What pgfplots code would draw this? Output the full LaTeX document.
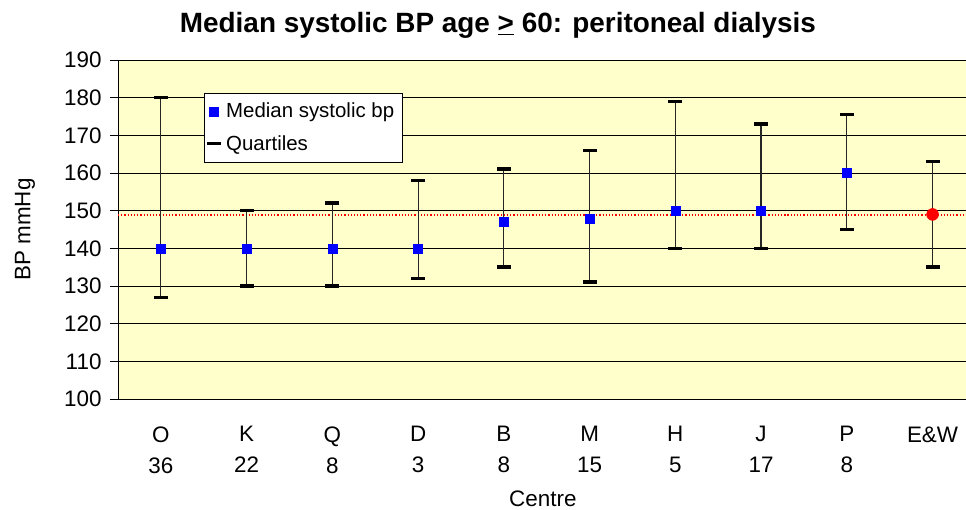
\documentclass[border=0pt]{standalone}
\usepackage{pgfplots}
\pgfplotsset{compat=1.18}
\usepackage{fontspec}
\setmainfont{Liberation Sans}
\definecolor{bgyellow}{HTML}{FFFFCC}
\begin{document}
\begin{tikzpicture}
\useasboundingbox (0,0) rectangle (966bp,510bp);
\begin{axis}[
  at={(118bp,111bp)}, anchor=south west,
  scale only axis, width=848bp, height=339bp,
  xmin=-0.5, xmax=9.39, ymin=100, ymax=190,
  axis background/.style={fill=bgyellow},
  axis x line*=bottom, axis y line*=left,
  x axis line style={-, line width=1pt}, y axis line style={-, line width=1pt},
  ytick={100,110,...,190},
  ymajorgrids, grid style={black, line width=0.8pt},
  y tick style={black, line width=0.8pt},
  major tick length=8bp,
  tick align=outside,
  yticklabel style={font=\fontsize{22.5}{26}\selectfont, xshift=-5bp},
  /pgf/number format/assume math mode=true,
  xtick={0,...,9},
  xticklabels={{O\\36},{K\\22},{Q\\8},{D\\3},{B\\8},{M\\15},{H\\5},{J\\17},{P\\8},{E\&W\\}},
  x tick style={draw=none},
  xticklabel style={align=center, font=\fontsize{22.5}{31}\selectfont, anchor=north, yshift=-16bp},
  extra x ticks={-0.5,0.5,...,8.5},
  extra x tick labels={},
  extra x tick style={grid=none, tick align=center, major tick length=15bp, tick style={draw=black, line width=0.8pt}},
  xlabel={Centre},
  xlabel style={font=\fontsize{22.5}{26}\selectfont, at={(axis description cs:0.501,-0.295)}, anchor=center},
  ylabel={BP mmHg},
  ylabel style={font=\fontsize{22.5}{26}\selectfont, at={(axis description cs:-0.1097,0.5)}, anchor=center},
  title={Median systolic BP age \underline{>} 60: peritoneal dialysis},
  title style={font=\fontsize{28}{32}\selectfont\bfseries, at={(axis description cs:0.448,1.085)}, anchor=center},
  legend style={at={(axis description cs:0.1014,0.9027)}, anchor=north west, draw=black, fill=white,
    font=\fontsize{20.5}{24}\selectfont, row sep=12bp, inner xsep=3bp, inner ysep=8bp,
    nodes={inner xsep=5bp}},
  legend cell align=left,
]
% reference line (E&W median)
\addplot[red, line width=1.5pt, dash pattern=on 1.2pt off 2pt, forget plot] coordinates {(-0.5,148.9) (9.39,148.9)};
% vertical quartile ranges
\addplot[draw=none, mark=none, forget plot,
  error bars/.cd, y dir=both, y explicit, error mark=none,
  error bar style={black!85, line width=1.2pt}]
  coordinates {
  (0,140) += (0,40) -= (0,13)
  (1,140) += (0,10) -= (0,10)
  (2,140) += (0,12) -= (0,10)
  (3,140) += (0,18) -= (0,8)
  (4,147) += (0,14) -= (0,12)
  (5,148) += (0,18) -= (0,17)
  (6,150) += (0,29) -= (0,10)
  (7,150) += (0,23) -= (0,10)
  (8,160) += (0,15.5) -= (0,15)
  (9,149) += (0,14) -= (0,14)
  };
% medians
\addplot[only marks, mark=square*, mark size=4.5bp, color=blue, mark options={draw=blue, fill=blue}]
  coordinates {(0,140) (1,140) (2,140) (3,140) (4,147) (5,148) (6,150) (7,150) (8,160)};
\addlegendentry{Median systolic bp}
% quartiles
\addplot[only marks, mark=-, mark size=7bp, mark options={line width=3.5pt}, color=black]
  coordinates {(0,180) (0,127) (1,150) (1,130) (2,152) (2,130) (3,158) (3,132) (4,161) (4,135)
  (5,166) (5,131) (6,179) (6,140) (7,173) (7,140) (8,175.5) (8,145) (9,163) (9,135)};
\addlegendentry{Quartiles}
% E&W median
\addplot[only marks, mark=*, mark size=6bp, color=red, mark options={draw=red, fill=red}, forget plot]
  coordinates {(9,149)};
\end{axis}
\end{tikzpicture}
\end{document}
